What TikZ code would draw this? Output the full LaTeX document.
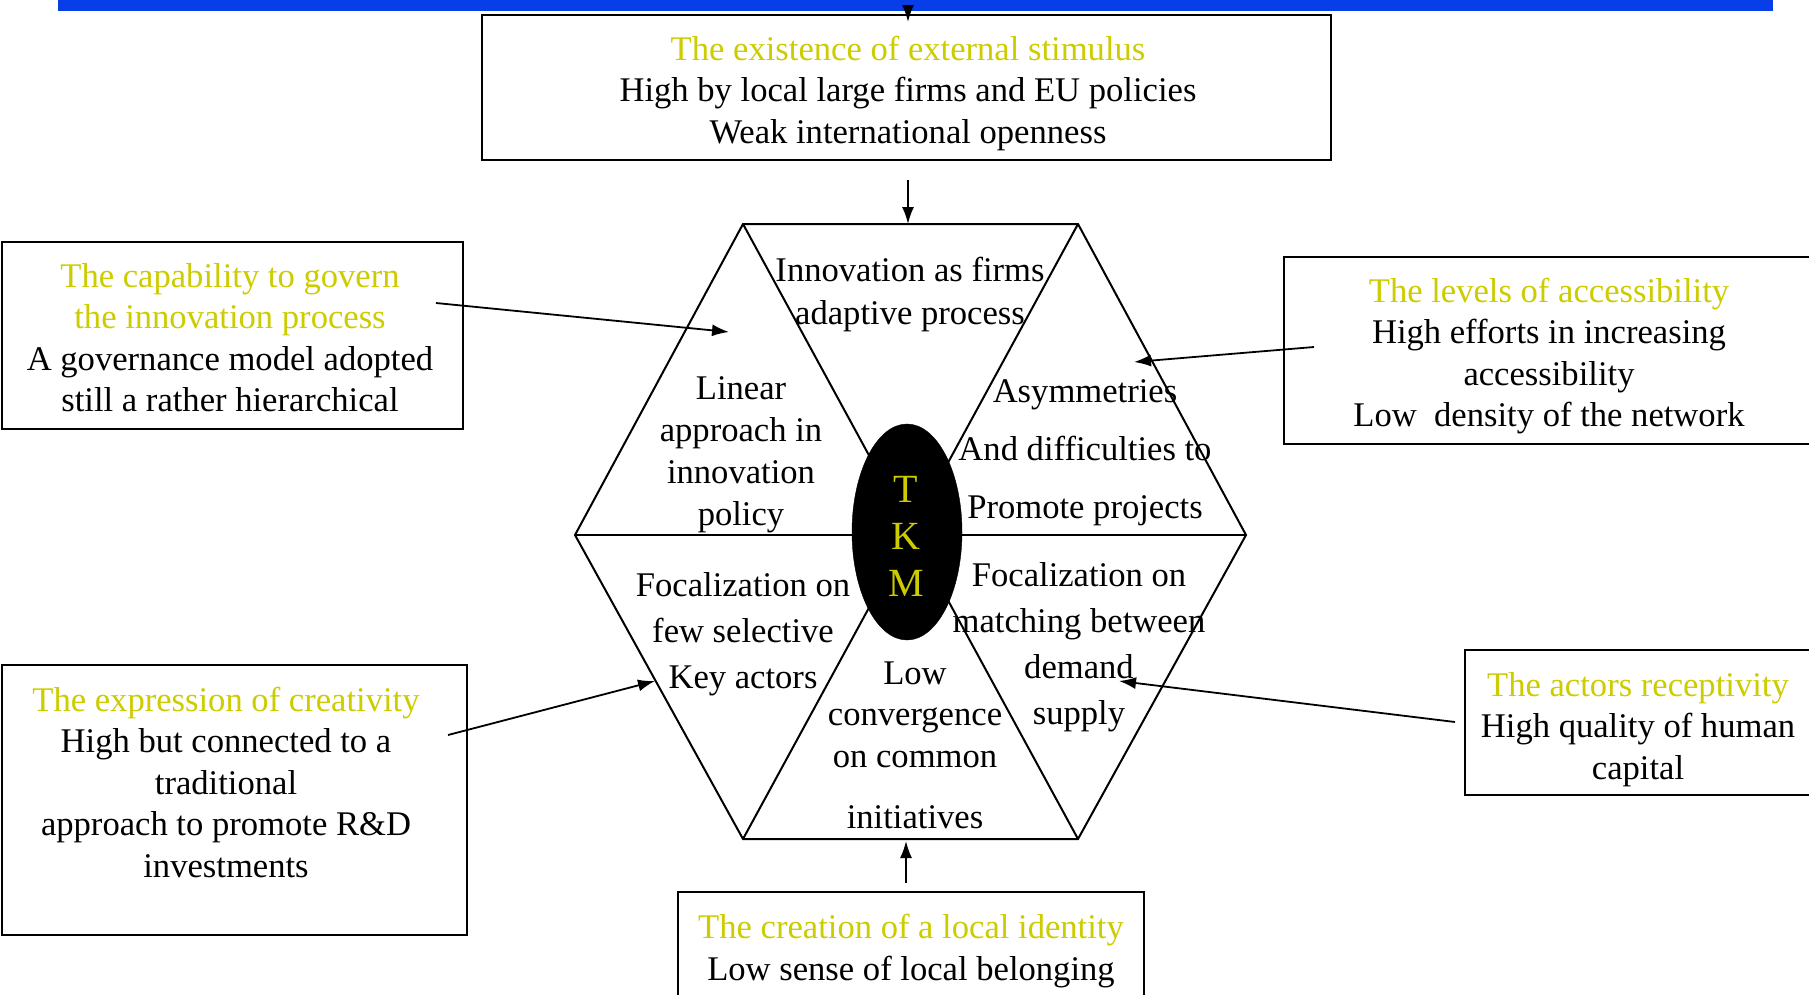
\documentclass[tikz,border=0pt]{standalone}
\usepackage{fontspec}
\setmainfont{Liberation Serif}
\usetikzlibrary{arrows.meta,shapes.geometric}
\definecolor{ylw}{RGB}{204,204,0}
\definecolor{barblue}{RGB}{8,62,232}
\begin{document}
\begin{tikzpicture}[x=1pt,y=-1pt,
  box/.style={draw=black, line width=2.6pt, inner sep=0pt},
  txt/.style={align=center, font=\fontsize{34.6}{41.5}\selectfont, inner sep=0pt},
  arr/.style={-{Latex[length=17pt,width=12pt]}, line width=1.8pt},
  hexline/.style={line width=2pt, line join=miter}]
\useasboundingbox (0,0) rectangle (1809,994);
% blue bar
\fill[barblue] (58,0) rectangle (1773,11);
% boxes
\node[box, minimum width=849pt, minimum height=145pt] (topbox) at (906.5,87.5) {};
\node[txt] (toptxt) at (908,93) {\textcolor{ylw}{The existence of external stimulus}\\High by local large firms and EU policies\\Weak international openness};
\node[box, minimum width=461pt, minimum height=187pt] (ltbox) at (232.5,335.5) {};
\node[txt] (lttxt) at (230,337.5) {\textcolor{ylw}{The capability to govern}\\\textcolor{ylw}{the innovation process}\\A governance model adopted\\still a rather hierarchical};
\node[box, minimum width=546pt, minimum height=187pt] (rtbox) at (1557,350.5) {};
\node[txt] (rttxt) at (1549,356) {\textcolor{ylw}{The levels of accessibility}\\High efforts in increasing\\accessibility\\Low\ \ density of the network};
\node[box, minimum width=465pt, minimum height=270pt] (lbbox) at (234.5,800) {};
\node[txt] (lbtxt) at (226,782) {\textcolor{ylw}{The expression of creativity}\\High but connected to a\\traditional\\approach to promote R\&D\\investments};
\node[box, minimum width=365pt, minimum height=145pt] (rbbox) at (1647.5,722.5) {};
\node[txt] (rbtxt) at (1638,729.5) {\textcolor{ylw}{The actors receptivity}\\High quality of human\\capital};
\node[box, minimum width=466pt, minimum height=128pt] (bbox) at (911,956) {};
\node[txt] (btxt) at (911,951) {\textcolor{ylw}{The creation of a local identity}\\Low sense of local belonging};
% hexagon
\coordinate (TL) at (743,224);
\coordinate (TR) at (1078,224);
\coordinate (R) at (1246,535);
\coordinate (BR) at (1078,839);
\coordinate (BL) at (743,839);
\coordinate (L) at (575,535);
\draw[hexline] (TL) -- (TR) -- (R) -- (BR) -- (BL) -- (L) -- cycle;
\draw[hexline] (TL) -- (BR);
\draw[hexline] (TR) -- (BL);
\draw[hexline] (L) -- (R);
\node[draw=black, fill=black, ellipse, minimum width=110pt, minimum height=216pt, inner sep=0pt] (tkm) at (907,532) {};
\node[align=center, inner sep=0pt, font=\fontsize{40}{47}\selectfont, text=ylw] (tkmtxt) at (906,536) {T\\K\\M};
% hexagon texts
\node[txt, font=\fontsize{34.6}{43}\selectfont] (ttop) at (910,294) {Innovation as firms\\adaptive process};
\node[txt, font=\fontsize{34.6}{42}\selectfont] (tul) at (741,455) {Linear\\approach in\\innovation\\policy};
\node[txt, font=\fontsize{34.6}{58}\selectfont] (tur) at (1085,453) {Asymmetries\\And difficulties to\\Promote projects};
\node[txt, font=\fontsize{34.6}{46}\selectfont] (tll) at (743,634) {Focalization on\\few selective\\Key actors};
\node[txt, font=\fontsize{34.6}{46}\selectfont] (tlr) at (1079,647) {Focalization on\\matching between\\demand\\supply};
\node[txt, font=\fontsize{34.6}{41.5}\selectfont] (tbot) at (915,745.5) {Low\\convergence\\on common\\[20pt]initiatives};
% arrows
\coordinate (a0s) at (908,6);
\coordinate (a0e) at (908,22);
\draw[arr] (a0s) -- (a0e);
\coordinate (a1s) at (908,180);
\coordinate (a1e) at (908,224);
\draw[arr] (a1s) -- (a1e);
\coordinate (a2s) at (436,303);
\coordinate (a2e) at (729,332);
\draw[arr] (a2s) -- (a2e);
\coordinate (a3s) at (1314,347);
\coordinate (a3e) at (1134,362);
\draw[arr] (a3s) -- (a3e);
\coordinate (a4s) at (448,735);
\coordinate (a4e) at (655,681);
\draw[arr] (a4s) -- (a4e);
\coordinate (a5s) at (1455,722);
\coordinate (a5e) at (1119,681);
\draw[arr] (a5s) -- (a5e);
\coordinate (a6s) at (906,883);
\coordinate (a6e) at (906,841);
\draw[arr] (a6s) -- (a6e);
\end{tikzpicture}
\end{document}
